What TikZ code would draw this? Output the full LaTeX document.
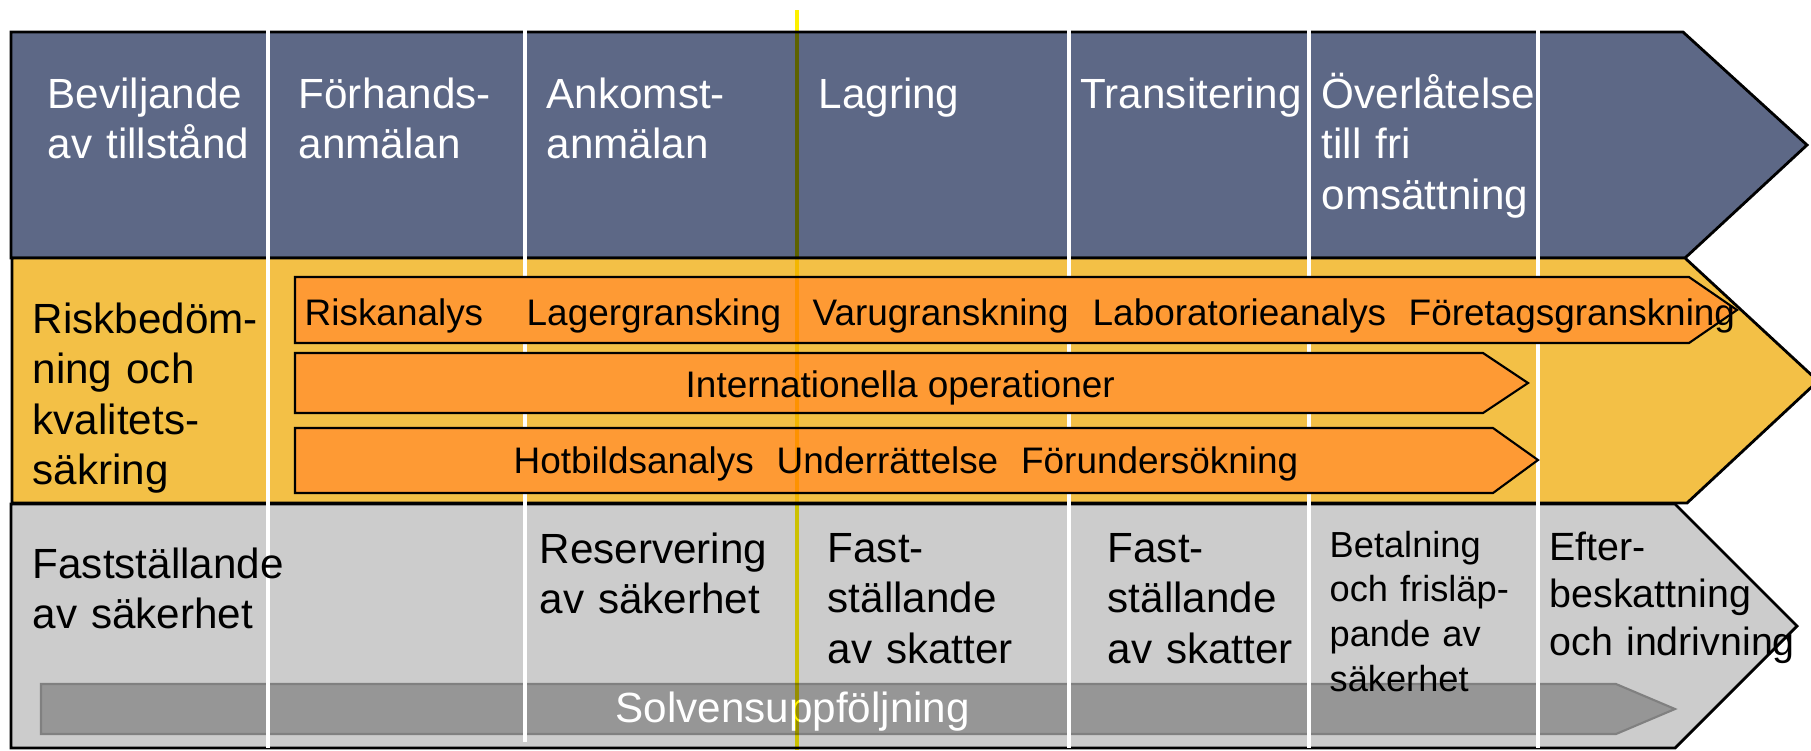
\documentclass[tikz,border=0pt]{standalone}
\usepackage{fontspec}
\setmainfont{Liberation Sans}
\usepackage{tikz}
\usetikzlibrary{calc}
\definecolor{phaseblue}{RGB}{93,104,134}
\definecolor{riskyellow}{RGB}{243,192,70}
\definecolor{taskorange}{RGB}{254,154,52}
\definecolor{taxgray}{RGB}{204,204,204}
\definecolor{solvgray}{RGB}{150,150,150}

\begin{document}
\begin{tikzpicture}[x=0.01cm,y=-0.01cm,
  band/.style={draw=black,line width=0.8pt},
  taskbar/.style={fill=taskorange,draw=black,line width=0.6pt},
  divider/.style={draw=white,line width=0.9pt},
  lbl/.style={anchor=base west,inner sep=0pt,text width=4cm,align=left,font=\fontsize{12}{14.4}\selectfont},
  bartext/.style={anchor=base west,inner sep=0pt,font=\fontsize{10.5}{12.6}\selectfont}]
  \useasboundingbox (0,0) rectangle (1811,750);
  \draw[band,fill=phaseblue] (11,32) -- (1683,32) -- (1807,145) -- (1685,258) -- (11,258) -- cycle;
  \draw[band,fill=riskyellow] (12,258) -- (1685,258) -- (1818,381) -- (1687,503) -- (12,503) -- cycle;
  \draw[band,fill=taxgray] (11,504) -- (1675,504) -- (1797,626) -- (1675,748) -- (11,748) -- cycle;
  \draw[fill=solvgray,draw=black!50,line width=0.6pt] (41,684) -- (1616,684) -- (1675,709) -- (1616,734) -- (41,734) -- cycle;
  \foreach \x/\yend in {268/748,525/742,1069/748,1309/748,1538/748}
    \draw[divider] (\x,30) -- (\x,\yend);
  \draw[taskbar] (295,277) -- (1689,277) -- (1737,310) -- (1689,343) -- (295,343) -- cycle;
  \draw[taskbar] (295,353) -- (1483,353) -- (1528,383) -- (1483,413) -- (295,413) -- cycle;
  \draw[taskbar] (295,428) -- (1493,428) -- (1538,460) -- (1493,493) -- (295,493) -- cycle;

  \node[lbl,text=white] (grant) at (47,108) {Beviljande\\av tillstånd};
  \node[lbl,text=white] (prenotice) at (298,108) {Förhands-\\anmälan};
  \node[lbl,text=white] (arrival) at (546,108) {Ankomst-\\anmälan};
  \node[lbl,text=white] (storage) at (818,108) {Lagring};
  \node[lbl,text=white] (transit) at (1080,108) {Transitering};
  \node[lbl,text=white] (release) at (1321,108) {Överlåtelse\\till fri\\omsättning};
  \node[lbl] (risk) at (32,333) {Riskbedöm-\\ning och\\kvalitets-\\säkring};
  \foreach \x/\word [count=\i] in {304/Riskanalys,526/Lagergransking,812/Varugranskning,1092/Laboratorieanalys,1408/Företagsgranskning}
    \node[bartext] (check\i) at (\x,325) {\word};
  \node[bartext] (intl) at (685,397) {Internationella operationer};
  \node[bartext] (threat) at (513,473) {Hotbildsanalys\hspace{6.5pt}Underrättelse\hspace{6.5pt}Förundersökning};
  \node[lbl] (security) at (32,578) {Fastställande\\av säkerhet};
  \node[lbl] (reserve) at (539,563) {Reservering\\av säkerhet};
  \node[lbl] (taxA) at (827,562) {Fast-\\ställande\\av skatter};
  \node[lbl] (taxB) at (1107,562) {Fast-\\ställande\\av skatter};
  \node[lbl,font=\fontsize{10.3}{12.7}\selectfont] (payment) at (1329,557) {Betalning\\och frisläp-\\pande av\\säkerhet};
  \node[lbl,font=\fontsize{11.2}{13.6}\selectfont] (posttax) at (1549,560) {Efter-\\beskattning\\och indrivning};
  \node[lbl,text=white] (solvency) at (615,722) {Solvensuppföljning};

  \draw[yellow,line width=1.3pt,blend mode=multiply] (797,10) -- (797,750);
\end{tikzpicture}
\end{document}
